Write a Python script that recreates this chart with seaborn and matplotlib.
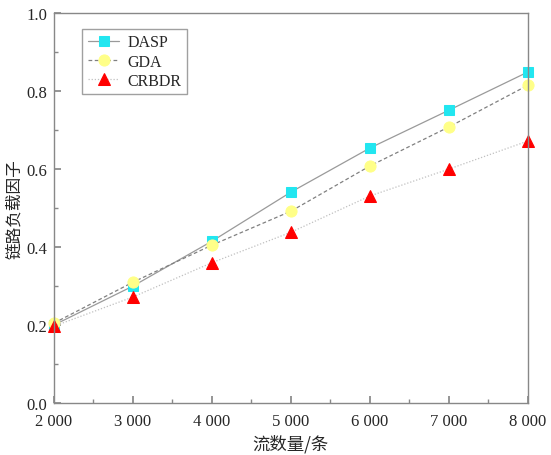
import matplotlib

matplotlib.use("Agg")
import matplotlib.pyplot as plt
import pandas as pd
import seaborn as sns
from matplotlib.ticker import MultipleLocator, FuncFormatter

flows = [2000, 3000, 4000, 5000, 6000, 7000, 8000]
dasp = [0.200, 0.300, 0.415, 0.541, 0.654, 0.751, 0.849]
gda = [0.205, 0.310, 0.405, 0.492, 0.608, 0.708, 0.815]
crbdr = [0.197, 0.272, 0.360, 0.438, 0.531, 0.600, 0.672]

sns.set_theme(style="ticks")
plt.rcParams["font.family"] = ["Liberation Serif", "Noto Sans CJK SC"]

fig = plt.figure(figsize=(5.51, 4.56), dpi=100)
ax = fig.add_axes([0.098, 0.114, 0.860, 0.855])

series = [
    ("DASP", dasp, "#9a9a9a", "-", "s", "#22E6F0", 7),
    ("GDA", gda, "#808080", (0, (3, 2)), "o", "#FFFF88", 8),
    ("CRBDR", crbdr, "#c0c0c0", (0, (1, 1.5)), "^", "#FF0000", 8.5),
]
for name, vals, lc, ls, mk, mc, ms in series:
    df = pd.DataFrame({"flow": flows, "load": vals})
    sns.lineplot(data=df, x="flow", y="load", ax=ax, color=lc, linestyle=ls,
                 linewidth=0.9, marker=mk, markerfacecolor=mc,
                 markeredgecolor=mc, markersize=ms, label=name, clip_on=False)

ax.set_xlim(2000, 8000)
ax.set_ylim(0, 1.0)
ax.xaxis.set_major_locator(MultipleLocator(1000))
ax.xaxis.set_minor_locator(MultipleLocator(500))
ax.yaxis.set_major_locator(MultipleLocator(0.2))
ax.yaxis.set_minor_locator(MultipleLocator(0.1))
ax.xaxis.set_major_formatter(FuncFormatter(lambda v, _: f"{int(v) // 1000} 000"))
ax.yaxis.set_major_formatter(FuncFormatter(lambda v, _: f"{v:.1f}"))
ax.tick_params(which="both", direction="in", color="#888888", labelsize=12,
               top=False, right=False)
ax.tick_params(which="major", length=5)
ax.tick_params(which="minor", length=3)
ax.tick_params(axis="x", pad=7)
ax.tick_params(axis="y", pad=5)
for lab in ax.get_xticklabels() + ax.get_yticklabels():
    lab.set_family("Liberation Serif")
for sp in ax.spines.values():
    sp.set_color("#888888")
    sp.set_linewidth(1.0)

ax.set_xlabel("流数量/条", fontsize=12.5, family=["Noto Sans CJK SC"])
ax.set_ylabel("链路负载因子", fontsize=12, family=["Noto Sans CJK SC"], labelpad=2)

leg = ax.legend(loc="upper left", bbox_to_anchor=(0.059, 0.96), fancybox=False,
                frameon=True, edgecolor="#888888", fontsize=11.5,
                handlelength=2.0, handletextpad=0.5, borderpad=0.35,
                labelspacing=0.2, borderaxespad=0)
leg.get_frame().set_linewidth(1.0)

fig.savefig("out.png", dpi=100)
